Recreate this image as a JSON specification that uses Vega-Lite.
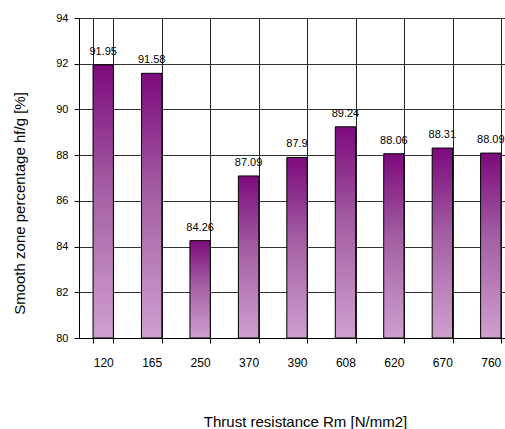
{
  "$schema": "https://vega.github.io/schema/vega-lite/v6.json",
  "width": 436,
  "height": 320,
  "autosize": {"type": "none"},
  "padding": {"left": 79, "top": 18, "right": 0, "bottom": 91},
  "background": "white",
  "config": {
    "view": {"stroke": null},
    "font": "Liberation Sans"
  },
  "data": {
    "values": [
      {"rm": "120", "pct": 91.95},
      {"rm": "165", "pct": 91.58},
      {"rm": "250", "pct": 84.26},
      {"rm": "370", "pct": 87.09},
      {"rm": "390", "pct": 87.9},
      {"rm": "608", "pct": 89.24},
      {"rm": "620", "pct": 88.06},
      {"rm": "670", "pct": 88.31},
      {"rm": "760", "pct": 88.09}
    ]
  },
  "encoding": {
    "x": {
      "field": "rm",
      "type": "ordinal",
      "sort": null,
      "scale": {"paddingInner": 0.58, "paddingOuter": 0.29},
      "axis": {
        "title": "Thrust resistance Rm [N/mm2]",
        "titleFontSize": 15,
        "titleFontWeight": "normal",
        "titleColor": "#000",
        "titlePadding": 46,
        "titleX": 226,
        "labelAngle": 0,
        "labelFontSize": 12,
        "labelColor": "#000",
        "labelPadding": 14,
        "tickBand": "extent",
        "tickSize": 5,
        "tickColor": "#000",
        "domainColor": "#000",
        "grid": true,
        "gridColor": "#222",
        "gridWidth": 1
      }
    },
    "y": {
      "field": "pct",
      "type": "quantitative",
      "scale": {"domain": [80, 94], "zero": false, "nice": false},
      "axis": {
        "title": "Smooth zone percentage hf/g [%]",
        "titleFontSize": 15,
        "titleFontWeight": "normal",
        "titleColor": "#000",
        "titlePadding": 28,
        "titleY": 185,
        "values": [80, 82, 84, 86, 88, 90, 92, 94],
        "labelFontSize": 11,
        "labelColor": "#000",
        "labelPadding": 6,
        "tickSize": 5,
        "tickColor": "#000",
        "domainColor": "#000",
        "grid": true,
        "gridColor": "#333",
        "gridWidth": 1
      }
    }
  },
  "layer": [
    {
      "mark": {
        "type": "bar",
        "stroke": "#000",
        "strokeWidth": 1,
        "color": {
          "gradient": "linear",
          "x1": 0, "y1": 0, "x2": 0, "y2": 1,
          "stops": [
            {"offset": 0, "color": "#7d0a7d"},
            {"offset": 0.45, "color": "#a35ea3"},
            {"offset": 1, "color": "#d09fd0"}
          ]
        }
      },
      "encoding": {"y2": {"datum": 80}}
    },
    {
      "mark": {"type": "text", "baseline": "alphabetic", "dy": -10, "fontSize": 11, "color": "#000"},
      "encoding": {"text": {"field": "pct", "type": "quantitative"}}
    }
  ]
}
